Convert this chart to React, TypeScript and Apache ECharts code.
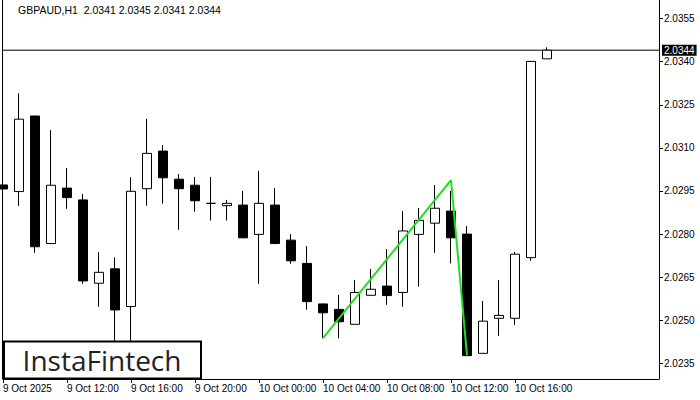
import React, { useEffect, useRef } from "react";
import * as echarts from "echarts";

const title = "GBPAUD,H1  2.0341 2.0345 2.0341 2.0344";
const tickLabels = [
  "9 Oct 2025", "9 Oct 12:00", "9 Oct 16:00", "9 Oct 20:00",
  "10 Oct 00:00", "10 Oct 04:00", "10 Oct 08:00", "10 Oct 12:00", "10 Oct 16:00",
];
const priceTicks = [2.0235, 2.025, 2.0265, 2.028, 2.0295, 2.031, 2.0325, 2.034, 2.0355];

const opens = [
  2.02971, 2.02948, 2.03211, 2.02767, 2.0296, 2.02919, 2.02629, 2.02679, 2.02548, 2.02958,
  2.03089, 2.02991, 2.0297, 2.02907, 2.02899, 2.02901, 2.02799, 2.02901, 2.02779, 2.02698,
  2.02557, 2.02538, 2.02486, 2.02587, 2.02619, 2.02597, 2.02799, 2.02838, 2.0288, 2.028,
  2.02385, 2.02507, 2.02507, 2.02718, 2.0341,
];
const closes = [
  2.02957, 2.032, 2.02756, 2.0297, 2.02927, 2.02637, 2.02667, 2.02536, 2.02949, 2.03081,
  2.02996, 2.02958, 2.02916, 2.02907, 2.02907, 2.02787, 2.02907, 2.02767, 2.02707, 2.02565,
  2.02526, 2.02495, 2.02597, 2.02608, 2.02586, 2.02811, 2.02848, 2.0289, 2.02787, 2.02377,
  2.02497, 2.02517, 2.0273, 2.03401, 2.0344,
];
const lows = [
  2.02866, 2.02898, 2.02735, 2.02767, 2.02888, 2.02627, 2.02547, 2.02414, 2.02397, 2.02899,
  2.02906, 2.02815, 2.02878, 2.02847, 2.02847, 2.02787, 2.02627, 2.02767, 2.02697, 2.02537,
  2.02437, 2.02437, 2.02486, 2.02587, 2.02554, 2.02547, 2.02617, 2.02735, 2.02698, 2.02377,
  2.02385, 2.02446, 2.02484, 2.02707, 2.0341,
];
const highs = [
  2.02981, 2.0329, 2.03211, 2.03162, 2.0303, 2.0294, 2.02737, 2.02719, 2.02998, 2.03201,
  2.0311, 2.03009, 2.02999, 2.02999, 2.02919, 2.0295, 2.0302, 2.0296, 2.028, 2.02758,
  2.02557, 2.02588, 2.0264, 2.02679, 2.02748, 2.0288, 2.02891, 2.02971, 2.0295, 2.02828,
  2.02567, 2.0264, 2.02738, 2.03401, 2.0345,
];
const currentPrice = 2.0344;
const patternIdx = [20, 28, 29];
const patternVals = [2.02438, 2.02988, 2.02379];

const TOTAL_SLOTS = 42;

export default function App() {
  const ref = useRef<HTMLDivElement>(null);
  useEffect(() => {
    document.body.style.margin = "0";
    if (!ref.current) return;
    const chart = echarts.init(ref.current, null, { renderer: "svg" });
    const categories = Array.from({ length: TOTAL_SLOTS }, (_, i) => "c" + i);
    const candleData = Array.from({ length: TOTAL_SLOTS }, (_, i) =>
      i < opens.length ? [opens[i], closes[i], lows[i], highs[i]] : "-"
    );
    const lineData = Array.from({ length: TOTAL_SLOTS }, (_, i) => {
      const k = patternIdx.indexOf(i);
      return k >= 0 ? patternVals[k] : null;
    });
    const priceLineData = Array.from({ length: TOTAL_SLOTS }, () => currentPrice);
    const font = "Liberation Sans";
    const showTick = (i: number) => i % 4 === 0 && i / 4 < tickLabels.length;
    chart.setOption({
      animation: false,
      textStyle: { fontFamily: font },
      grid: { left: 3, right: 41, top: 0, bottom: 21 },
      xAxis: {
        type: "category",
        data: categories,
        boundaryGap: false,
        axisLine: { show: true, lineStyle: { color: "#000", width: 1 } },
        axisTick: {
          show: true,
          length: 4,
          lineStyle: { color: "#000" },
          interval: showTick,
        },
        axisLabel: {
          show: true,
          interval: showTick,
          formatter: (_v: string, i: number) => (showTick(i) ? tickLabels[i / 4] : ""),
          align: "left",
          margin: 4,
          color: "#000",
          fontSize: 10,
          fontFamily: font,
        },
        splitLine: { show: false },
      },
      yAxis: {
        type: "value",
        position: "right",
        min: 2.022957,
        max: 2.036147,
        axisLine: { show: true, lineStyle: { color: "#000", width: 1 } },
        axisTick: { show: true, length: 4, lineStyle: { color: "#000" }, customValues: priceTicks },
        axisLabel: {
          show: true,
          customValues: priceTicks,
          formatter: (v: number) => v.toFixed(4),
          margin: 5,
          color: "#000",
          fontSize: 10,
          fontFamily: font,
        },
        splitLine: { show: false },
      },
      series: [
        {
          type: "line",
          data: priceLineData,
          showSymbol: false,
          symbol: "none",
          silent: true,
          lineStyle: { color: "#000", width: 1 },
          z: 1,
          endLabel: {
            show: true,
            distance: 3,
            formatter: () => currentPrice.toFixed(4),
            color: "#fff",
            backgroundColor: "#000",
            padding: [1, 2, 0, 2],
            fontSize: 10,
            fontFamily: font,
          },
        },
        {
          type: "candlestick",
          data: candleData,
          barWidth: 10,
          clip: false,
          z: 3,
          itemStyle: {
            color: "#ffffff",
            color0: "#000000",
            borderColor: "#000000",
            borderColor0: "#000000",
            borderWidth: 1,
          },
        },
        {
          type: "line",
          data: lineData,
          connectNulls: true,
          showSymbol: false,
          symbol: "none",
          lineStyle: { color: "#1fe01f", width: 2 },
          z: 5,
        },
      ],
      graphic: [
        {
          type: "line",
          z: 100,
          shape: { x1: 2.5, y1: 0, x2: 2.5, y2: 379 },
          style: { stroke: "#000", lineWidth: 1 },
        },
        {
          type: "text",
          z: 100,
          left: 18,
          top: 4,
          style: { text: title, fill: "#000", font: "10.5px 'Liberation Sans'" },
        },
        {
          type: "rect",
          z: 100,
          shape: { x: 4, y: 341.5, width: 197, height: 37 },
          style: { fill: "#fff", stroke: "#000", lineWidth: 2 },
        },
        {
          type: "text",
          z: 101,
          x: 102,
          y: 360,
          style: {
            text: "InstaFintech",
            fill: "#222",
            font: "28px 'Open Sans'",
            textAlign: "center",
            textVerticalAlign: "middle",
          },
        },
      ],
    });
    return () => chart.dispose();
  }, []);
  return <div ref={ref} style={{ width: 700, height: 400 }} />;
}
